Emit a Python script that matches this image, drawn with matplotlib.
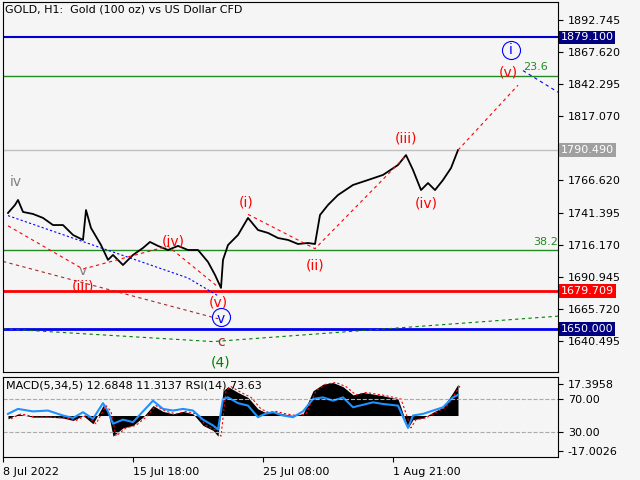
import matplotlib as mpl
mpl.use('Agg')
import matplotlib.pyplot as plt

plt.rcParams['font.family'] = 'DejaVu Sans'

# price path, x in bar index units (pixels of the main panel)
px = [5, 12, 15, 20, 30, 40, 50, 60, 70, 80, 83, 88, 98, 105, 110, 120, 130, 140, 147, 155,
      165, 175, 185, 195, 205, 212, 218, 220, 225, 235, 245, 255, 265, 275, 285, 295, 305, 312,
      317, 325, 335, 350, 365, 380, 395, 403, 410, 418, 425, 432, 440, 448, 455]
price = [1741.1, 1747.4, 1751.3, 1741.9, 1740.3, 1737.2, 1731.6, 1731.6, 1723.8, 1719.9, 1743.4,
         1729.3, 1715.9, 1704.2, 1708.1, 1700.2, 1708.1, 1713.6, 1718.3, 1715.2, 1712.0, 1715.2,
         1712.0, 1712.0, 1702.6, 1692.4, 1682.2, 1704.2, 1715.9, 1723.8, 1737.2, 1727.7, 1725.4,
         1721.4, 1719.9, 1716.7, 1717.5, 1716.7, 1739.5, 1747.4, 1755.2, 1763.1, 1767.0, 1771.0,
         1778.8, 1786.6, 1774.9, 1759.1, 1764.6, 1759.1, 1767.0, 1776.4, 1790.5]

# lower panel (RSI units, 50 = zero line of MACD)
ix = [5, 15, 30, 45, 60, 70, 80, 90, 100, 105, 110, 120, 130, 140, 150, 160, 170, 180, 190,
      200, 210, 215, 220, 225, 235, 245, 255, 262, 270, 280, 290, 300, 310, 320, 330, 340,
      350, 360, 370, 380, 395, 405, 410, 420, 430, 440, 450, 455]
rsi = [52, 58, 55, 56, 50, 47, 54, 46, 65, 55, 40, 45, 42, 55, 68, 58, 56, 58, 56, 45, 38, 33,
       70, 72, 65, 62, 48, 52, 54, 50, 48, 55, 70, 72, 68, 72, 60, 63, 66, 64, 62, 35, 50, 52,
       56, 60, 72, 75]
macd = [46, 52, 48, 48, 47, 44, 50, 40, 62, 55, 25, 35, 38, 48, 62, 55, 52, 55, 52, 38, 32, 25,
        80, 85, 78, 72, 58, 54, 55, 52, 50, 52, 80, 88, 90, 85, 75, 78, 76, 74, 70, 35, 45, 47,
        54, 60, 78, 88]

levels = [(1879.1, '#0000cc', 1.5), (1848.7, '#228B22', 1.0), (1790.49, '#c0c0c0', 1.0),
          (1712.0, '#228B22', 1.0), (1679.709, '#ff0000', 2.0), (1650.0, '#0000ee', 2.0)]
yticks = [1892.745, 1867.620, 1842.295, 1817.070, 1766.620, 1741.395, 1716.170, 1690.945,
          1665.720, 1640.495]
boxes = [(1879.1, '1879.100', '#000080'), (1790.49, '1790.490', '#a0a0a0'),
         (1679.709, '1679.709', '#ff0000'), (1650.0, '1650.000', '#000080')]

bg = '#f5f5f5'
fig = plt.figure(figsize=(6.4, 4.8), dpi=100, facecolor=bg)
W, H = 640, 480
ax = fig.add_axes([3 / W, 1 - 372 / H, 555 / W, 370 / H], facecolor=bg)
ax2 = fig.add_axes([3 / W, 1 - 457 / H, 555 / W, 80 / H], facecolor=bg)

ax.set_xlim(0, 555)
ax.set_ylim(1616.1, 1906.9)
for y, c, lw in levels:
    ax.axhline(y, color=c, lw=lw)
ax.plot(px, price, color='black', lw=1.3)

# wave guide lines
ax.plot([455, 515], [1790.5, 1841.5], color='red', ls=(0, (3, 3)), lw=0.8)
ax.plot([520, 555], [1853, 1836], color='blue', ls=(0, (3, 3)), lw=0.8)
ax.plot([5, 80, 165, 215], [1731, 1697, 1715, 1683], color='red', ls=(0, (3, 3)), lw=0.8)
ax.plot([5, 185, 215], [1739, 1690, 1676], color='blue', ls=(0, (2, 2)), lw=0.8)
ax.plot([0, 215], [1703, 1658], color='brown', ls=(0, (3, 3)), lw=0.8)
ax.plot([0, 210, 555], [1650, 1640, 1660], color='green', ls=(0, (3, 3)), lw=0.8)
ax.plot([245, 312, 403], [1740, 1713, 1786], color='red', ls=(0, (3, 3)), lw=0.8)

ax.text(2, 1897, 'GOLD, H1:  Gold (100 oz) vs US Dollar CFD', fontsize=8, va='bottom')
ax.text(545, 1852, '23.6', color='#228B22', fontsize=8, ha='right', va='bottom')
ax.text(555, 1714, '38.2', color='#228B22', fontsize=8, ha='right', va='bottom')
waves = [(13, 1760, 'iv', 'gray'), (80, 1690, 'v', 'gray'), (80, 1678, '(iii)', 'red'),
         (170, 1713, '(iv)', 'red'), (243, 1744, '(i)', 'red'), (215, 1665, '(v)', 'red'),
         (218, 1652, 'v', 'blue'), (218, 1634, 'c', 'brown'), (218, 1618, '(4)', 'green'),
         (312, 1694, '(ii)', 'red'), (403, 1794, '(iii)', 'red'), (423, 1743, '(iv)', 'red'),
         (505, 1846, '(v)', 'red'), (508, 1864, 'i', 'blue')]
for x, y, s, c in waves:
    ax.text(x, y, s, color=c, fontsize=10, ha='center', va='bottom')
for x, y in [(218, 1659), (508, 1869)]:
    ax.plot(x, y, 'o', ms=13, mfc='none', mec='blue', mew=0.8)

ax.set_xticks([])
ax.yaxis.tick_right()
ax.set_yticks(yticks)
ax.set_yticklabels([f'{v:.3f}' for v in yticks], fontsize=8)
for y, s, c in boxes:
    ax.text(1.005, y, s, transform=ax.get_yaxis_transform(), color='white', fontsize=8,
            va='center', bbox=dict(boxstyle='square,pad=0.15', fc=c, ec='none'))

ax2.set_xlim(0, 555)
ax2.set_ylim(-0.3, 96.7)
ax2.fill_between(ix, 50, macd, color='black', lw=0)
ax2.plot([x + 3 for x in ix], macd, color='red', ls=(0, (2, 2)), lw=0.8)
ax2.plot(ix, rsi, color='#1e90ff', lw=1.5)
for v in (70, 30):
    ax2.axhline(v, color='#aaaaaa', ls='--', lw=0.8)
ax2.text(3, 92, 'MACD(5,34,5) 12.6848 11.3137 RSI(14) 73.63', fontsize=8, va='top')
ax2.yaxis.tick_right()
ax2.set_yticks([88, 70, 30, 7])
ax2.set_yticklabels(['17.3958', '70.00', '30.00', '-17.0026'], fontsize=8)
ax2.set_xticks([0, 130, 260, 390])
ax2.set_xticklabels(['8 Jul 2022', '15 Jul 18:00', '25 Jul 08:00', '1 Aug 21:00'], fontsize=8,
                    ha='left')

plt.savefig('out.png', dpi=100, facecolor=bg)
